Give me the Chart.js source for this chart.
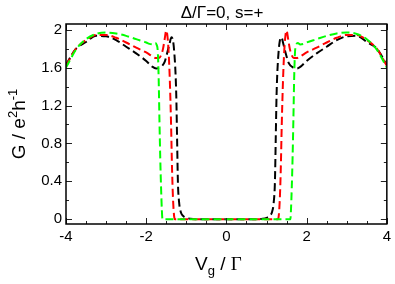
<!DOCTYPE html>
<html>
<head>
<meta charset="utf-8">
<script src="https://cdn.jsdelivr.net/npm/chart.js@4.4.1/dist/chart.umd.min.js"></script>
<style>
  html, body { margin: 0; padding: 0; background: #fff; }
  canvas { display: block; }
</style>
</head>
<body>
<canvas id="chart" width="395" height="284"></canvas>
<script>
// gate voltage samples and conductance, one pair of arrays per curve
const blackX = [-4, -3.75, -3.5, -3.25, -3, -2.75, -2.5, -2.25, -2, -1.85, -1.75, -1.67, -1.6, -1.54, -1.48, -1.42, -1.37, -1.33, -1.3, -1.27, -1.25, -1.23, -1.21, -1.18, -1.14, -1.08, -1, -0.9, -0.7, 0,
  0.7, 0.9, 1, 1.08, 1.14, 1.18, 1.21, 1.23, 1.25, 1.27, 1.3, 1.33, 1.37, 1.42, 1.48, 1.54, 1.6, 1.67, 1.75, 1.85, 2, 2.25, 2.5, 2.75, 3, 3.25, 3.5, 3.75, 4];
const blackG = [1.63, 1.8, 1.87, 1.935, 1.93, 1.89, 1.82, 1.75, 1.67, 1.61, 1.59, 1.6, 1.62, 1.66, 1.75, 1.85, 1.92, 1.88, 1.76, 1.55, 1.3, 0.85, 0.4, 0.18, 0.08, 0.035, 0.015, 0.006, 0.001, 0,
  0.001, 0.006, 0.015, 0.035, 0.08, 0.18, 0.4, 0.85, 1.3, 1.55, 1.76, 1.88, 1.92, 1.85, 1.75, 1.66, 1.62, 1.6, 1.59, 1.61, 1.67, 1.75, 1.82, 1.89, 1.93, 1.935, 1.87, 1.8, 1.63];

const redX = [-4, -3.75, -3.5, -3.25, -3, -2.75, -2.5, -2.25, -2, -1.85, -1.75, -1.68, -1.62, -1.58, -1.54, -1.5, -1.47, -1.44, -1.41, -1.38, -1.355, -1.33, -1.3, -1.28, 0,
  1.28, 1.3, 1.33, 1.355, 1.38, 1.41, 1.44, 1.47, 1.5, 1.54, 1.58, 1.62, 1.68, 1.75, 1.85, 2, 2.25, 2.5, 2.75, 3, 3.25, 3.5, 3.75, 4];
const redG = [1.62, 1.8, 1.89, 1.945, 1.945, 1.915, 1.865, 1.81, 1.76, 1.72, 1.7, 1.7, 1.74, 1.8, 1.9, 1.99, 1.93, 1.76, 1.45, 1, 0.52, 0.2, 0.02, 0, 0,
  0, 0.02, 0.2, 0.52, 1, 1.45, 1.76, 1.93, 1.99, 1.9, 1.8, 1.74, 1.7, 1.7, 1.72, 1.76, 1.81, 1.865, 1.915, 1.945, 1.945, 1.89, 1.8, 1.62];

const greenX = [-4, -3.75, -3.5, -3.25, -3, -2.75, -2.5, -2.25, -2, -1.92, -1.84, -1.78, -1.74, -1.71, -1.69, -1.67, -1.65, -1.63, -1.61, -1.595, 0,
  1.595, 1.61, 1.63, 1.65, 1.67, 1.69, 1.71, 1.74, 1.78, 1.84, 1.92, 2, 2.25, 2.5, 2.75, 3, 3.25, 3.5, 3.75, 4];
const greenG = [1.6, 1.79, 1.9, 1.955, 1.97, 1.96, 1.935, 1.9, 1.865, 1.85, 1.845, 1.86, 1.84, 1.76, 1.5, 1.05, 0.65, 0.34, 0.1, 0, 0,
  0, 0.1, 0.34, 0.65, 1.05, 1.5, 1.76, 1.84, 1.86, 1.845, 1.85, 1.865, 1.9, 1.935, 1.96, 1.97, 1.955, 1.9, 1.79, 1.6];

const xTickVals = [-4, -2, 0, 2, 4];
const yTickVals = [0, 0.4, 0.8, 1.2, 1.6, 2];
const xMinorVals = [-4, -3.5, -3, -2.5, -2, -1.5, -1, -0.5, 0, 0.5, 1, 1.5, 2, 2.5, 3, 3.5, 4];
const yMinorVals = [0, 0.2, 0.4, 0.6, 0.8, 1, 1.2, 1.4, 1.6, 1.8, 2];

const toPoints = (xs, ys) => xs.map((v, i) => ({ x: v, y: ys[i] }));

// draws pieces of text in a row, some raised or lowered (super/subscripts)
function drawPieces(ctx, pieces, x, y) {
  let cx = x;
  pieces.forEach(p => {
    ctx.font = p.font;
    ctx.fillText(p.text, cx, y + (p.dy || 0));
    cx += ctx.measureText(p.text).width;
  });
}

const frameAndLabels = {
  id: 'frameAndLabels',
  afterDraw(chart) {
    const { ctx, chartArea: a, scales } = chart;
    const xs = scales.x, ys = scales.y;
    ctx.save();
    ctx.strokeStyle = '#222';
    ctx.lineWidth = 1;
    // inward ticks on all four sides
    xMinorVals.forEach(v => {
      const px = Math.round(xs.getPixelForValue(v)) + 0.5;
      const len = xTickVals.includes(v) ? 6 : 3;
      ctx.beginPath();
      ctx.moveTo(px, a.bottom); ctx.lineTo(px, a.bottom - len);
      ctx.moveTo(px, a.top); ctx.lineTo(px, a.top + len);
      ctx.stroke();
    });
    yMinorVals.forEach(v => {
      const py = Math.round(ys.getPixelForValue(v)) + 0.5;
      const len = yTickVals.includes(v) ? 6 : 3;
      ctx.beginPath();
      ctx.moveTo(a.left, py); ctx.lineTo(a.left + len, py);
      ctx.moveTo(a.right, py); ctx.lineTo(a.right - len, py);
      ctx.stroke();
    });
    ctx.lineWidth = 1.5;
    ctx.strokeStyle = '#000';
    ctx.strokeRect(a.left, a.top, a.right - a.left, a.bottom - a.top);

    ctx.fillStyle = '#000';
    ctx.textBaseline = 'alphabetic';
    // title
    ctx.textAlign = 'center';
    ctx.font = '17px "Liberation Sans"';
    ctx.fillText('\u0394/\u0393=0, s=+', 222, 18);

    // x axis title: V_g / Γ
    ctx.textAlign = 'left';
    drawPieces(ctx, [
      { text: 'V', font: '19px "Liberation Sans"' },
      { text: 'g', font: '13px "Liberation Sans"', dy: 5 },
      { text: ' / ', font: '19px "Liberation Sans"' },
      { text: '\u0393', font: '19px "Liberation Serif"' }
    ], 195, 270);

    // y axis title: G / e^2 h^-1, rotated
    ctx.save();
    ctx.translate(25, 124);
    ctx.rotate(-Math.PI / 2);
    const pieces = [
      { text: 'G / e', font: '19px "Liberation Sans"' },
      { text: '2', font: '13px "Liberation Sans"', dy: -8 },
      { text: 'h', font: '19px "Liberation Sans"' },
      { text: '-1', font: '13px "Liberation Sans"', dy: -8 }
    ];
    let w = 0;
    pieces.forEach(p => { ctx.font = p.font; w += ctx.measureText(p.text).width; });
    drawPieces(ctx, pieces, -w / 2, 0);
    ctx.restore();
    ctx.restore();
  }
};

const lineStyle = {
  borderWidth: 2,
  borderDash: [8, 4],
  pointRadius: 0,
  fill: false,
  cubicInterpolationMode: 'monotone'
};

new Chart(document.getElementById('chart'), {
  type: 'line',
  data: {
    datasets: [
      { label: 'green', data: toPoints(greenX, greenG), borderColor: '#00ff00', ...lineStyle },
      { label: 'red', data: toPoints(redX, redG), borderColor: '#ff0000', ...lineStyle },
      { label: 'black', data: toPoints(blackX, blackG), borderColor: '#000000', ...lineStyle }
    ]
  },
  options: {
    responsive: false,
    animation: false,
    layout: { padding: { top: 24, right: 6, left: 0, bottom: 0 } },
    plugins: {
      legend: { display: false },
      tooltip: { enabled: false },
      title: { display: false }
    },
    scales: {
      x: {
        type: 'linear',
        min: -4,
        max: 4,
        afterBuildTicks: s => { s.ticks = xTickVals.map(v => ({ value: v })); },
        afterFit: s => { s.height = 60; },
        grid: { display: false, drawTicks: false },
        border: { display: false },
        ticks: {
          padding: 4,
          color: '#000',
          maxRotation: 0,
          font: { family: 'Liberation Sans', size: 15 }
        }
      },
      y: {
        type: 'linear',
        min: -0.05,
        max: 2.06,
        afterBuildTicks: s => { s.ticks = yTickVals.map(v => ({ value: v })); },
        afterFit: s => { s.width = 66; },
        grid: { display: false, drawTicks: false },
        border: { display: false },
        ticks: {
          padding: 4,
          color: '#000',
          font: { family: 'Liberation Sans', size: 15 },
          callback: v => String(Math.round(v * 10) / 10)
        }
      }
    }
  },
  plugins: [frameAndLabels]
});
</script>
</body>
</html>
